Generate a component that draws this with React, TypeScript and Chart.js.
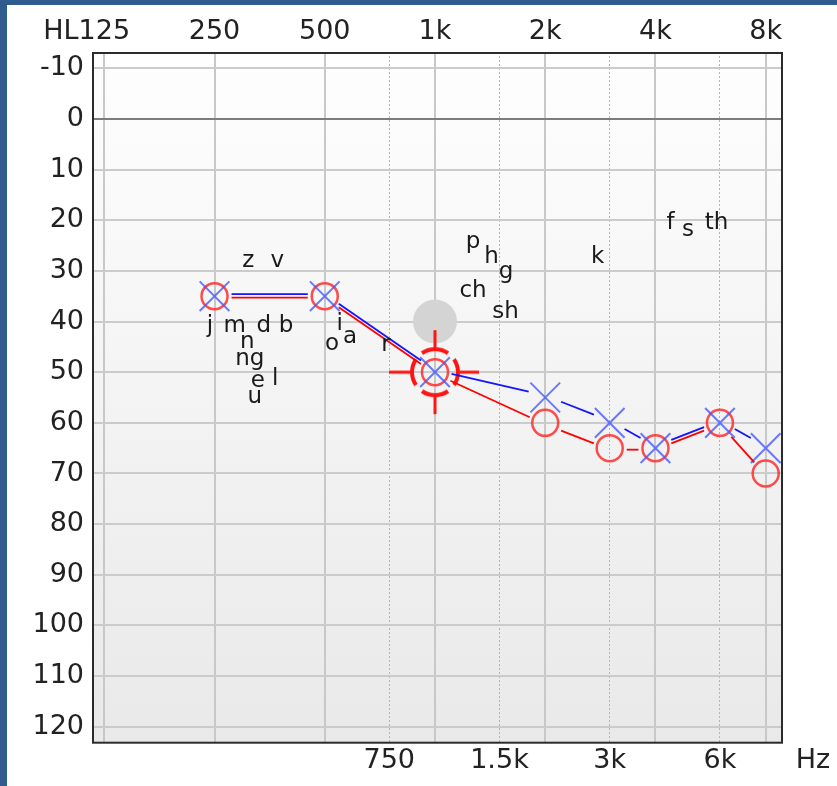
import React, { useEffect, useRef } from "react";
import { Chart, registerables } from "chart.js";

Chart.register(...registerables);

// ---- data ----
const topTickFreqs = [125, 250, 500, 1000, 2000, 4000, 8000];
const topTickLabels = ["125", "250", "500", "1k", "2k", "4k", "8k"];
const bottomTickFreqs = [750, 1500, 3000, 6000];
const bottomTickLabels = ["750", "1.5k", "3k", "6k"];
const dbTicks = [-10, 0, 10, 20, 30, 40, 50, 60, 70, 80, 90, 100, 110, 120];

const earFreqs = [250, 500, 1000, 2000, 3000, 4000, 6000, 8000];
const rightEarDb = [35, 35, 50, 60, 65, 65, 60, 70];
const leftEarDb = [35, 35, 50, 55, 60, 65, 60, 65];

const speechLabels = ["z", "v", "j", "m", "d", "b", "n", "ng", "e", "l", "u", "i", "o", "a", "r", "p", "h", "g", "ch", "sh", "k", "f", "s", "th"];
const speechFreqs = [309, 371, 243, 284, 341, 392, 307, 312, 328, 366, 322, 549, 523, 586, 735, 1270, 1427, 1563, 1270, 1558, 2779, 4397, 4909, 5872];
const speechDb = [29.2, 29.2, 42.0, 42.0, 42.0, 42.0, 45.3, 48.6, 52.9, 52.5, 56.0, 41.7, 45.6, 44.2, 45.9, 25.5, 28.5, 31.5, 35.1, 39.3, 28.4, 21.8, 23.2, 21.8];

const grayFreq = [1000];
const grayDb = [40];
const cursorFreq = [1000];
const cursorDb = [50];

const X_MIN = 115.7;
const X_MAX = 8864;
const Y_MIN = -13.2;
const Y_MAX = 123;

const TICK_FONT = "DejaVu Sans";

function makeTarget(): HTMLCanvasElement {
  const c = document.createElement("canvas");
  c.width = 100;
  c.height = 100;
  const g = c.getContext("2d")!;
  const cx = 50, cy = 50;
  g.strokeStyle = "#ff1414";
  g.lineWidth = 4;
  for (let k = 0; k < 4; k++) {
    const a = (k * Math.PI) / 2;
    g.beginPath();
    g.arc(cx, cy, 23, a - 0.6, a + 0.6);
    g.stroke();
  }
  g.lineWidth = 3;
  g.beginPath();
  g.moveTo(cx - 46, cy); g.lineTo(cx - 22, cy);
  g.moveTo(cx + 22, cy); g.lineTo(cx + 44, cy);
  g.moveTo(cx, cy - 42); g.lineTo(cx, cy - 22);
  g.moveTo(cx, cy + 22); g.lineTo(cx, cy + 42);
  g.stroke();
  return c;
}

const bgPlugin = {
  id: "bgPlugin",
  beforeDraw(chart: any) {
    const { ctx, chartArea: a } = chart;
    const grad = ctx.createLinearGradient(0, a.top, 0, a.bottom);
    grad.addColorStop(0, "#fefefe");
    grad.addColorStop(1, "#e9e9e9");
    ctx.save();
    ctx.fillStyle = grad;
    ctx.fillRect(a.left, a.top, a.right - a.left, a.bottom - a.top);
    ctx.restore();
  },
  beforeDatasetsDraw(chart: any) {
    const { ctx, chartArea: a } = chart;
    ctx.save();
    ctx.strokeStyle = "#2b2b2b";
    ctx.lineWidth = 2;
    ctx.strokeRect(a.left + 1, a.top + 1, a.right - a.left - 1, a.bottom - a.top - 0.3);
    ctx.restore();
  },
  afterDatasetsDraw(chart: any) {
    const { ctx } = chart;
    // connecting lines with gaps at markers
    const lineSpecs = [
      { idx: 3, color: "#ff0000", dy: 1.5 },
      { idx: 4, color: "#1414ff", dy: -2 },
    ];
    const gap = 17;
    ctx.save();
    ctx.lineWidth = 1.8;
    for (const spec of lineSpecs) {
      const meta = chart.getDatasetMeta(spec.idx);
      ctx.strokeStyle = spec.color;
      for (let i = 0; i < meta.data.length - 1; i++) {
        const p = meta.data[i], q = meta.data[i + 1];
        const dx = q.x - p.x, dyv = q.y - p.y;
        const len = Math.hypot(dx, dyv);
        if (len <= gap * 2) continue;
        const ux = dx / len, uy = dyv / len;
        ctx.beginPath();
        ctx.moveTo(p.x + ux * gap, p.y + uy * gap + spec.dy);
        ctx.lineTo(q.x - ux * gap, q.y - uy * gap + spec.dy);
        ctx.stroke();
      }
    }
    // speech sound letters
    const sm = chart.getDatasetMeta(1);
    ctx.fillStyle = "#1a1a1a";
    ctx.font = `23px "${TICK_FONT}"`;
    ctx.textAlign = "center";
    ctx.textBaseline = "alphabetic";
    sm.data.forEach((pt: any, i: number) => {
      ctx.fillText(speechLabels[i], pt.x, pt.y);
    });
    ctx.restore();
  },
  afterDraw(chart: any) {
    const { ctx } = chart;
    const xs = chart.scales.x;
    const x2 = chart.scales.x2;
    ctx.save();
    ctx.fillStyle = "#222222";
    ctx.font = `27px "${TICK_FONT}"`;
    ctx.textBaseline = "middle";
    const w125 = ctx.measureText("125").width;
    ctx.textAlign = "right";
    ctx.fillText("HL", xs.getPixelForValue(125) - w125 / 2, xs.bottom - 4 - 16.2);
    ctx.textAlign = "center";
    ctx.fillText("Hz", chart.chartArea.right + 31, x2.top + 3 + 16.2);
    ctx.restore();
  },
};

export default function App() {
  const ref = useRef<HTMLCanvasElement | null>(null);

  useEffect(() => {
    document.body.style.margin = "0";
    const canvas = ref.current!;
    const target = makeTarget();
    const tickFont = { family: TICK_FONT, size: 27 };

    const chart = new Chart(canvas, {
      type: "scatter",
      data: {
        datasets: [
          {
            label: "gray",
            data: grayFreq.map((f, i) => ({ x: f, y: grayDb[i] })),
            pointStyle: "circle",
            pointRadius: 22,
            pointBackgroundColor: "#d4d4d4",
            pointBorderWidth: 0,
            pointBorderColor: "rgba(0,0,0,0)",
            order: 6,
            clip: false,
          } as any,
          {
            label: "speech",
            data: speechFreqs.map((f, i) => ({ x: f, y: speechDb[i] })),
            pointRadius: 0,
            order: 5,
            clip: false,
          } as any,
          {
            label: "cursor",
            data: cursorFreq.map((f, i) => ({ x: f, y: cursorDb[i] })),
            pointStyle: target,
            pointRadius: 20,
            order: 4,
            clip: false,
          } as any,
          {
            label: "right",
            data: earFreqs.map((f, i) => ({ x: f, y: rightEarDb[i] })),
            pointStyle: "circle",
            pointRadius: 13,
            pointBorderWidth: 2.5,
            pointBorderColor: "rgba(255,45,45,0.85)",
            pointBackgroundColor: "rgba(0,0,0,0)",
            order: 3,
            clip: false,
          } as any,
          {
            label: "left",
            data: earFreqs.map((f, i) => ({ x: f, y: leftEarDb[i] })),
            pointStyle: "crossRot",
            pointRadius: 21,
            pointBorderWidth: 2,
            pointBorderColor: "rgba(70,90,255,0.8)",
            pointBackgroundColor: "rgba(0,0,0,0)",
            order: 2,
            clip: false,
          } as any,
        ],
      },
      options: {
        animation: false,
        responsive: false,
        devicePixelRatio: 1,
        events: [],
        layout: { padding: { left: 0, top: 0, right: 55, bottom: 0 } },
        plugins: { legend: { display: false }, tooltip: { enabled: false } },
        scales: {
          x: {
            type: "logarithmic",
            position: "top",
            min: X_MIN,
            max: X_MAX,
            afterBuildTicks: (s: any) => {
              s.ticks = topTickFreqs.map((v) => ({ value: v }));
            },
            afterFit: (s: any) => {
              s.height = 47;
            },
            ticks: {
              autoSkip: false,
              maxRotation: 0,
              minRotation: 0,
              padding: 4,
              color: "#222222",
              font: tickFont,
              callback: (_v: any, i: number) => topTickLabels[i],
            },
            grid: { color: "#c8c8c8", lineWidth: 2, drawTicks: false },
            border: { display: false },
          } as any,
          x2: {
            type: "logarithmic",
            position: "bottom",
            min: X_MIN,
            max: X_MAX,
            afterBuildTicks: (s: any) => {
              s.ticks = bottomTickFreqs.map((v) => ({ value: v }));
            },
            afterFit: (s: any) => {
              s.height = 44;
            },
            ticks: {
              autoSkip: false,
              maxRotation: 0,
              minRotation: 0,
              padding: 3,
              color: "#222222",
              font: tickFont,
              callback: (_v: any, i: number) => bottomTickLabels[i],
            },
            grid: { color: "#b4b4b4", lineWidth: 1, drawTicks: false },
            border: { display: false, dash: [2, 2] },
          } as any,
          y: {
            type: "linear",
            position: "left",
            reverse: true,
            min: Y_MIN,
            max: Y_MAX,
            afterBuildTicks: (s: any) => {
              s.ticks = dbTicks.map((v) => ({ value: v }));
            },
            afterFit: (s: any) => {
              s.width = 85;
            },
            ticks: {
              padding: 8,
              color: "#222222",
              font: tickFont,
              callback: (v: any) => String(v),
            },
            grid: {
              color: (c: any) => (c.tick && c.tick.value === 0 ? "#7c7c7c" : "#cbcbcb"),
              lineWidth: 2,
              drawTicks: false,
            },
            border: { display: false },
          } as any,
        },
      },
      plugins: [bgPlugin],
    });
    return () => chart.destroy();
  }, []);

  return (
    <div style={{ position: "relative", width: 837, height: 786, background: "#2f5b8e", overflow: "hidden" }}>
      <div style={{ position: "absolute", left: 7, top: 5, width: 830, height: 781, background: "#ffffff" }}>
        <canvas ref={ref} width={830} height={781} style={{ display: "block", width: 830, height: 781 }} />
      </div>
    </div>
  );
}
